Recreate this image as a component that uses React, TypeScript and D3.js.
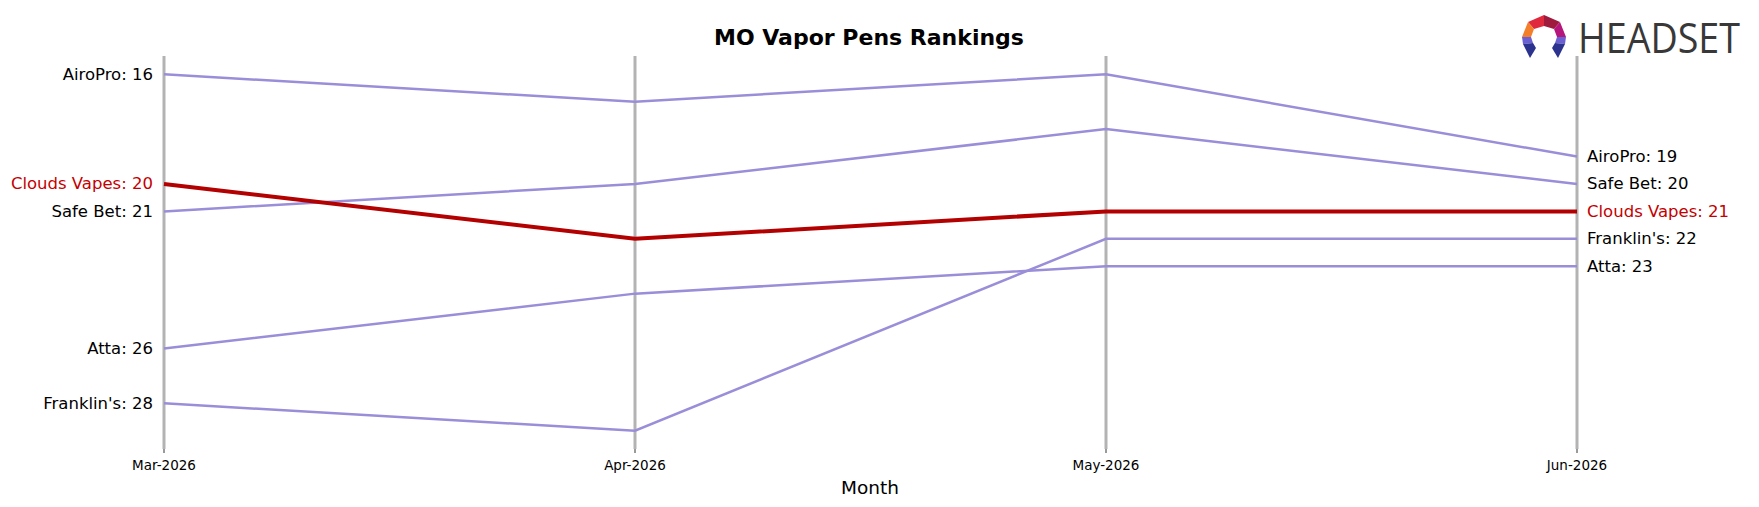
import * as d3 from "d3";
import { useEffect, useRef } from "react";

// data
const months = ["Mar-2026", "Apr-2026", "May-2026", "Jun-2026"];
const brands = ["AiroPro", "Safe Bet", "Atta", "Franklin's", "Clouds Vapes"];
const airoPro = [16, 17, 16, 19];
const safeBet = [21, 20, 18, 20];
const atta = [26, 24, 23, 23];
const franklins = [28, 29, 22, 22];
const cloudsVapes = [20, 22, 21, 21];
const highlight = "Clouds Vapes";

const W = 1759;
const H = 507;

const App = () => {
  const svgRef = useRef<SVGSVGElement>(null);

  useEffect(() => {
    const svg = d3.select(svgRef.current).attr("width", W).attr("height", H);
    svg.selectAll("*").remove();

    const series = [airoPro, safeBet, atta, franklins, cloudsVapes].map((v, i) => ({
      name: brands[i],
      values: v,
    }));

    const x = d3.scalePoint().domain(months).range([164, 1577]);
    const y = d3.scaleLinear().domain([16, 28]).range([74.3, 403.3]);

    // title
    svg
      .append("text")
      .attr("x", 869)
      .attr("y", 37)
      .attr("text-anchor", "middle")
      .attr("dominant-baseline", "central")
      .attr("font-family", "DejaVu Sans")
      .attr("font-weight", "bold")
      .attr("font-size", 22)
      .text("MO Vapor Pens Rankings");

    // vertical month axes
    svg
      .selectAll("line.vax")
      .data(months)
      .join("line")
      .attr("class", "vax")
      .attr("x1", (d) => x(d))
      .attr("x2", (d) => x(d))
      .attr("y1", 56)
      .attr("y2", 449)
      .attr("stroke", "#b3b3b3")
      .attr("stroke-width", 3);

    // ticks + tick labels
    svg
      .selectAll("line.tick")
      .data(months)
      .join("line")
      .attr("class", "tick")
      .attr("x1", (d) => x(d))
      .attr("x2", (d) => x(d))
      .attr("y1", 449)
      .attr("y2", 453)
      .attr("stroke", "#000")
      .attr("stroke-width", 0.8);
    svg
      .selectAll("text.tlab")
      .data(months)
      .join("text")
      .attr("class", "tlab")
      .attr("x", (d) => x(d))
      .attr("y", 465)
      .attr("text-anchor", "middle")
      .attr("dominant-baseline", "central")
      .attr("font-family", "DejaVu Sans")
      .attr("font-size", 13.5)
      .text((d) => d);

    svg
      .append("text")
      .attr("x", 870)
      .attr("y", 487)
      .attr("text-anchor", "middle")
      .attr("dominant-baseline", "central")
      .attr("font-family", "DejaVu Sans")
      .attr("font-size", 18.5)
      .text("Month");

    const line = d3
      .line<number>()
      .x((_, i) => x(months[i]) as number)
      .y((d) => y(d));

    // highlighted brand drawn last so it sits on top
    const ordered = [...series.filter((s) => s.name !== highlight), ...series.filter((s) => s.name === highlight)];

    svg
      .selectAll("path.rank")
      .data(ordered)
      .join("path")
      .attr("class", "rank")
      .attr("fill", "none")
      .attr("stroke", (d) => (d.name === highlight ? "#b30000" : "#9a8ed9"))
      .attr("stroke-width", (d) => (d.name === highlight ? 4 : 2.5))
      .attr("d", (d) => line(d.values));

    const labelColor = (d) => (d.name === highlight ? "#c40000" : "#000");

    svg
      .selectAll("text.left")
      .data(series)
      .join("text")
      .attr("class", "left")
      .attr("x", 153)
      .attr("y", (d) => y(d.values[0]))
      .attr("text-anchor", "end")
      .attr("dominant-baseline", "central")
      .attr("font-family", "DejaVu Sans")
      .attr("font-size", 16.5)
      .attr("fill", labelColor)
      .text((d) => `${d.name}: ${d.values[0]}`);

    svg
      .selectAll("text.right")
      .data(series)
      .join("text")
      .attr("class", "right")
      .attr("x", 1587)
      .attr("y", (d) => y(d.values[3]))
      .attr("text-anchor", "start")
      .attr("dominant-baseline", "central")
      .attr("font-family", "DejaVu Sans")
      .attr("font-size", 16.5)
      .attr("fill", labelColor)
      .text((d) => `${d.name}: ${d.values[3]}`);

    // logo
    const logo = svg.append("g").attr("transform", "translate(1520,15)");
    const pieces: [string, number[][]][] = [
      ["#e0293c", [[24, 0], [24, 11], [14, 14], [8, 7]]],
      ["#9e1b3e", [[24, 0], [40, 7], [34, 14], [24, 11]]],
      ["#f47f2a", [[8, 7], [14, 14], [11, 22], [2, 22]]],
      ["#b5167c", [[40, 7], [46, 22], [37, 22], [34, 14]]],
      ["#6a60d4", [[2, 22], [11, 22], [13, 28], [3, 29]]],
      ["#6a60d4", [[46, 22], [37, 22], [35, 28], [45, 29]]],
      ["#2c338e", [[3, 29], [13, 28], [16, 33], [10, 43]]],
      ["#2c338e", [[45, 29], [35, 28], [32, 33], [38, 43]]],
    ];
    logo
      .selectAll("polygon")
      .data(pieces)
      .join("polygon")
      .attr("points", (d) => d[1].map((p) => p.join(",")).join(" "))
      .attr("fill", (d) => d[0]);
    svg
      .append("text")
      .attr("x", 1578)
      .attr("y", 53)
      .attr("font-family", "Open Sans")
      .attr("font-weight", 500)
      .attr("font-size", 42)
      .attr("fill", "#383838")
      .attr("textLength", 162)
      .attr("lengthAdjust", "spacingAndGlyphs")
      .text("HEADSET");
  }, []);

  return <svg ref={svgRef} style={{ position: "absolute", left: 0, top: 0, background: "#fff" }}></svg>;
};

export default App;
